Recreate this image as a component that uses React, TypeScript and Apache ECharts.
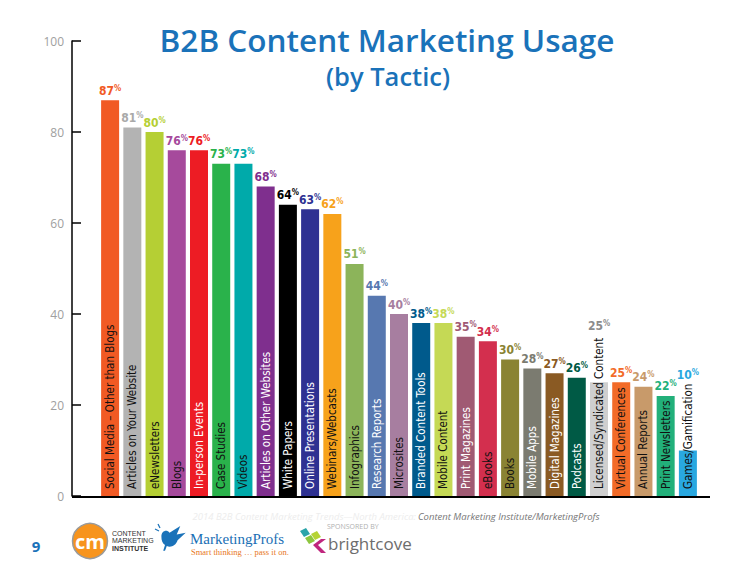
import React, { useEffect, useRef } from "react";
import * as echarts from "echarts";

const categories = [
  "Social Media – Other than Blogs",
  "Articles on Your Website",
  "eNewsletters",
  "Blogs",
  "In-person Events",
  "Case Studies",
  "Videos",
  "Articles on Other Websites",
  "White Papers",
  "Online Presentations",
  "Webinars/Webcasts",
  "Infographics",
  "Research Reports",
  "Microsites",
  "Branded Content Tools",
  "Mobile Content",
  "Print Magazines",
  "eBooks",
  "Books",
  "Mobile Apps",
  "Digital Magazines",
  "Podcasts",
  "Licensed/Syndicated Content",
  "Virtual Conferences",
  "Annual Reports",
  "Print Newsletters",
  "Games/Gamification",
];

const usage = [87, 81, 80, 76, 76, 73, 73, 68, 64, 63, 62, 51, 44, 40, 38, 38, 35, 34, 30, 28, 27, 26, 25, 25, 24, 22, 10];

const yTicks = [0, 20, 40, 60, 80, 100];

const barColors = [
  "#f15a24", "#b3b3b3", "#b5cf34", "#a64a9c", "#ed1c24", "#2ab24b", "#00aaaa",
  "#7f2f8e", "#000000", "#2e3192", "#f7a21b", "#8cb45a", "#5778b0", "#a77ea0",
  "#005a8c", "#c5d955", "#a05a73", "#d32f4e", "#8a8333", "#7b7b70", "#8a5a23",
  "#005a45", "#cfcfcf", "#f26b28", "#c89a6a", "#22b07a", "#29a8e0",
];

const valueColors = [
  "#f15a24", "#a9a9a9", "#b5cf34", "#a64a9c", "#ed1c24", "#2ab24b", "#00aaaa",
  "#7f2f8e", "#000000", "#2e3192", "#f7a21b", "#8cb45a", "#5778b0", "#a77ea0",
  "#005a8c", "#c5d955", "#a05a73", "#d32f4e", "#8a8333", "#7b7b70", "#8a5a23",
  "#005a45", "#8c8c8c", "#f26b28", "#c89a6a", "#22b07a", "#29a8e0",
];

// true = white text inside the bar, false = black
const whiteText = [
  false, false, false, false, true, false, false, true, true, true, false, false,
  true, false, true, false, true, false, false, true, true, true, false, false,
  false, false, false,
];

const NARROW = "'Liberation Sans Narrow', 'DejaVu Sans Condensed', 'Roboto', sans-serif";
const BLUE = "#1a72b9";

const BIRD =
  "M6 11 C6 5 12 3 15 7 L27 0 L23 9 L33 7 L24 15 C22 21 16 23 12 21 L10 26 L8 26 L10 20 C7 18 6 15 6 11 Z";

export default function App() {
  const ref = useRef<HTMLDivElement>(null);

  useEffect(() => {
    if (!ref.current) return;
    try {
      echarts.graphic.registerShape("bird", echarts.graphic.extendPath(BIRD, {}));
    } catch (e) {}
    const chart = echarts.init(ref.current, null, { renderer: "svg" });

    const barData = usage.map((v, i) => ({
      value: v,
      itemStyle: { color: barColors[i] },
      label: {
        show: true,
        formatter: categories[i],
        color: whiteText[i] ? "#ffffff" : "#111111",
      },
    }));

    // labels whose category text rises above the bar are lifted above it
    const lift: Record<number, number> = { 22: -47, 26: -66 };

    const valueData = usage.map((v, i) => ({
      value: v,
      label: {
        show: true,
        offset: [0, lift[i] || 0],
        rich: {
          v: { fontFamily: NARROW, fontSize: 12, fontWeight: "bold", color: valueColors[i] },
          p: { fontFamily: NARROW, fontSize: 8, fontWeight: "bold", color: valueColors[i], verticalAlign: "top", padding: [0, 0, 5, 0] },
        },
      },
    }));

    const option: any = {
      animation: false,
      grid: { left: 99, width: 600, top: 41, height: 455 },
      xAxis: {
        type: "category",
        data: categories,
        axisLine: { show: false },
        axisTick: { show: false },
        axisLabel: { show: false },
      },
      yAxis: {
        type: "value",
        min: yTicks[0],
        max: yTicks[yTicks.length - 1],
        interval: 20,
        offset: 27,
        splitLine: { show: false },
        axisLine: { show: true, lineStyle: { color: "#000", width: 1.5 } },
        axisTick: { show: true, inside: true, length: 9, lineStyle: { color: "#000", width: 1.5 } },
        axisLabel: { color: "#a0a0a0", fontSize: 12, fontFamily: "'Open Sans', sans-serif", margin: 8 },
      },
      series: [
        {
          type: "bar",
          data: barData,
          barWidth: 18,
          label: {
            position: "insideBottom",
            rotate: 90,
            align: "left",
            verticalAlign: "middle",
            distance: 7,
            fontFamily: NARROW,
            fontSize: 11.5,
          },
        },
        {
          type: "bar",
          data: valueData,
          barWidth: 18,
          barGap: "-100%",
          itemStyle: { color: "rgba(0,0,0,0)" },
          silent: true,
          label: {
            show: true,
            position: "top",
            distance: 3,
            formatter: (p: any) => `{v|${p.value}}{p|%}`,
          },
        },
      ],
      graphic: [
        { type: "line", shape: { x1: 72, y1: 497, x2: 710, y2: 497 }, style: { stroke: "#000", lineWidth: 2 } },
        {
          type: "text", x: 387, y: 39,
          style: { text: "B2B Content Marketing Usage", fill: BLUE, font: "600 31.5px 'Open Sans', sans-serif", textAlign: "center", textVerticalAlign: "middle" },
        },
        {
          type: "text", x: 388, y: 76,
          style: { text: "(by Tactic)", fill: BLUE, font: "600 25.5px 'Open Sans', sans-serif", textAlign: "center", textVerticalAlign: "middle" },
        },
        {
          type: "text", x: 416, y: 516,
          style: { text: "2014 B2B Content Marketing Trends—North America:", fill: "#ededed", font: "italic 9.5px 'Open Sans', sans-serif", textAlign: "right", textVerticalAlign: "middle" },
        },
        {
          type: "text", x: 418, y: 516,
          style: { text: "Content Marketing Institute/MarketingProfs", fill: "#777", font: "italic 9.5px 'Open Sans', sans-serif", textAlign: "left", textVerticalAlign: "middle" },
        },
        {
          type: "text", x: 36, y: 546,
          style: { text: "9", fill: BLUE, font: "bold 15px 'Open Sans', sans-serif", textAlign: "center", textVerticalAlign: "middle" },
        },
        { type: "circle", shape: { cx: 90, cy: 541, r: 17.5 }, style: { fill: "#f7941d", stroke: "#9a9a9a", lineWidth: 1.5 } },
        {
          type: "text", x: 90, y: 541,
          style: { text: "cm", fill: "#fff", font: "bold 20px 'Open Sans', sans-serif", textAlign: "center", textVerticalAlign: "middle" },
        },
        { type: "text", x: 112, y: 533, style: { text: "CONTENT", fill: "#333", font: "7px 'Liberation Sans', sans-serif", textVerticalAlign: "middle" } },
        { type: "text", x: 112, y: 540, style: { text: "MARKETING", fill: "#333", font: "7px 'Liberation Sans', sans-serif", textVerticalAlign: "middle" } },
        { type: "text", x: 112, y: 548, style: { text: "INSTITUTE", fill: "#333", font: "bold 7px 'Liberation Sans', sans-serif", textVerticalAlign: "middle" } },
        { type: "bird", x: 156, y: 526, scaleX: 0.9, scaleY: 0.95, style: { fill: "#1a72b9" } },
        { type: "line", shape: { x1: 159, y1: 531, x2: 155, y2: 529 }, style: { stroke: "#1a72b9", lineWidth: 1.2 } },
        { type: "line", shape: { x1: 160, y1: 528, x2: 158, y2: 524 }, style: { stroke: "#1a72b9", lineWidth: 1.2 } },
        {
          type: "text", x: 190, y: 539,
          style: { text: "MarketingProfs", fill: "#1a6fb5", font: "15px 'Liberation Serif', serif", textVerticalAlign: "middle" },
        },
        {
          type: "text", x: 191, y: 552,
          style: { text: "Smart thinking … pass it on.", fill: "#e87722", font: "8.5px 'Liberation Serif', serif", textVerticalAlign: "middle" },
        },
        {
          type: "text", x: 327, y: 526,
          style: { text: "SPONSORED BY", fill: "#b0b0b0", font: "7px 'Open Sans', sans-serif", textVerticalAlign: "middle" },
        },
        { type: "polygon", shape: { points: [[300, 531], [306, 528], [310, 534], [304, 537]] }, style: { fill: "#2aa4a9" } },
        { type: "polygon", shape: { points: [[305, 538], [311, 535], [315, 541], [309, 544]] }, style: { fill: "#8dc63f" } },
        { type: "polygon", shape: { points: [[311, 534], [317, 531], [321, 537], [315, 540]] }, style: { fill: "#b5d334" } },
        { type: "polygon", shape: { points: [[326, 539], [318, 545], [326, 553], [321, 553], [313, 545], [321, 539]] }, style: { fill: "#c0267e" } },
        {
          type: "text", x: 328, y: 543,
          style: { text: "brightcove", fill: "#6d6d6d", font: "17px 'Open Sans', sans-serif", textVerticalAlign: "middle" },
        },
      ],
    };

    chart.setOption(option);
    return () => chart.dispose();
  }, []);

  return (
    <div
      ref={ref}
      style={{ position: "fixed", left: 0, top: 0, width: 740, height: 573, background: "#fff" }}
    />
  );
}
